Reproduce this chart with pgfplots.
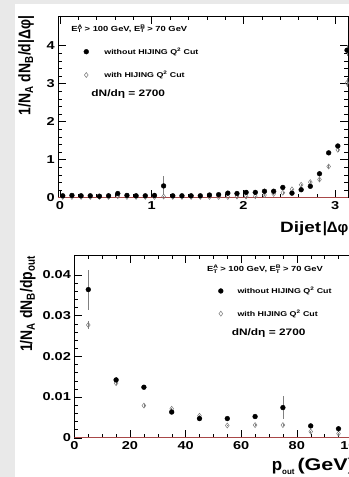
\documentclass[border=0pt]{standalone}
\usepackage{fontspec}
\setmainfont{Liberation Sans}[FakeStretch=1.27]
\newfontfamily\labfont{Liberation Sans}
\usepackage{graphicx}
\usepackage{pgfplots}
\usepackage{pgfplotstable}
\pgfplotsset{compat=1.18}
\definecolor{zeroline}{HTML}{A84848}
\definecolor{bg}{HTML}{E9E9E9}
\newcommand{\ET}[1]{E\rlap{\textsuperscript{#1}}\textsubscript{T}}

\pgfplotstableread{
x y e
0.03 0.05 0.02
0.13 0.06 0.02
0.23 0.05 0.02
0.33 0.05 0.02
0.43 0.04 0.02
0.53 0.05 0.02
0.63 0.11 0.03
0.73 0.06 0.02
0.83 0.05 0.02
0.93 0.05 0.02
1.03 0.06 0.02
1.13 0.31 0.25
1.23 0.05 0.02
1.33 0.05 0.02
1.43 0.05 0.02
1.53 0.05 0.02
1.63 0.07 0.02
1.73 0.08 0.02
1.83 0.12 0.02
1.93 0.11 0.02
2.03 0.14 0.02
2.13 0.14 0.02
2.23 0.17 0.02
2.33 0.17 0.02
2.43 0.27 0.03
2.53 0.12 0.02
2.63 0.21 0.03
2.73 0.30 0.03
2.83 0.63 0.04
2.93 1.18 0.05
3.03 1.36 0.06
3.13 3.88 0.15
}\phiNoCut

\pgfplotstableread{
x y e
0.03 0.02 0.01
0.13 0.02 0.01
0.23 0.02 0.01
0.33 0.02 0.01
0.43 0.02 0.01
0.53 0.02 0.01
0.63 0.04 0.01
0.73 0.02 0.01
0.83 0.02 0.01
0.93 0.02 0.01
1.03 0.02 0.01
1.13 0.03 0.01
1.23 0.02 0.01
1.33 0.02 0.01
1.43 0.02 0.01
1.53 0.02 0.01
1.63 0.02 0.01
1.73 0.02 0.01
1.83 0.02 0.01
1.93 0.03 0.01
2.03 0.03 0.01
2.13 0.04 0.01
2.23 0.07 0.02
2.33 0.10 0.02
2.43 0.13 0.02
2.53 0.22 0.02
2.63 0.34 0.03
2.73 0.41 0.03
2.83 0.48 0.03
2.93 0.82 0.04
3.03 1.26 0.05
3.13 3.02 0.12
}\phiCut

\pgfplotstableread{
x y e
5 0.0364 0.0049
15 0.0142 0.0006
25 0.0124 0.0004
35 0.0063 0.0003
45 0.0047 0.0003
55 0.0047 0.0003
65 0.0052 0.0003
75 0.0074 0.0028
85 0.0029 0.0002
95 0.0022 0.0002
}\poutNoCut

\pgfplotstableread{
x y e
5 0.0277 0.0010
15 0.0134 0.0004
25 0.0079 0.0003
35 0.0071 0.0003
45 0.0054 0.0003
55 0.0030 0.0002
65 0.0031 0.0002
75 0.0031 0.0002
85 0.0015 0.0002
95 0.0010 0.0002
}\poutCut

\pgfplotsset{
  rootstyle/.style={
    scale only axis,
    anchor=origin,
    axis line style={line width=0.5pt},
    tick align=inside,
    xtick pos=both, ytick pos=both,
    xticklabel pos=lower, yticklabel pos=left,
    major tick length=8bp, minor tick length=4bp,
    every tick/.style={black, line width=0.4pt},
    tick label style={font=\bfseries\fontsize{11.5}{12}\selectfont},
    /pgf/number format/assume math mode=true,
    legend cell align=left,
    legend image code/.code={\draw[##1] plot coordinates {(0bp,0bp)};},
    legend style={draw=none, fill=none, inner sep=0pt, outer sep=0pt,
      anchor=north west,
      nodes={inner sep=0pt, font=\bfseries\fontsize{7}{8}\selectfont}},
  },
  myerr/.style={error bars/y dir=both, error bars/y explicit, error bars/error mark=none,
    error bars/error bar style={gray, line width=0.5pt}},
  nocut/.style={only marks, mark=*, mark size=2.4bp, black, myerr},
  cutmark/.style={only marks, mark=diamond, mark size=2.5bp,
    mark options={draw=gray!95!black, fill=white, line width=0.5pt}},
  withcut/.style={cutmark, myerr},
}

\begin{document}
\begin{tikzpicture}
\path[use as bounding box] (0bp,0bp) rectangle (349bp,477bp);
\fill[bg] (0bp,0bp) rectangle (349bp,477bp);
\fill[white] (15bp,0bp) rectangle (349bp,473bp);
\clip (0bp,0bp) rectangle (349bp,477bp);

% ---------- top panel ----------
\begin{axis}[rootstyle,
  at={(60bp,279.3bp)}, width=289.9bp, height=181.7bp,
  xmin=-0.02, xmax=3.1416, ymin=0, ymax=4.78,
  xtick={0,1,2,3}, ytick={0,1,2,3,4},
  minor x tick num=4, minor y tick num=4,
  xlabel={Dijet\hspace{1.5bp}{\labfont |Δφ|}},
  xlabel style={at={(axis description cs:0.765,-0.194)}, anchor=base west, inner sep=0pt,
    font=\bfseries\fontsize{15}{15}\selectfont},
  ylabel={\scalebox{1}[1.2]{\labfont 1/N\textsubscript{A} dN\textsubscript{B}/d|Δφ|}},
  ylabel style={at={(axis description cs:-0.110,0.728)}, anchor=center,
    font=\bfseries\fontsize{14}{14}\selectfont},
  legend style={at={(rel axis cs:0.0887,0.8255)}, row sep=15.3bp, column sep=15.7bp},
]
\addplot[forget plot, withcut] table[x=x, y=y, y error=e] {\phiCut};
\addplot[nocut] table[x=x, y=y, y error=e] {\phiNoCut};
\addlegendentry{without HIJING Q\textsuperscript{2} Cut}
\addlegendimage{cutmark}
\addlegendentry{with HIJING Q\textsuperscript{2} Cut}
\draw[zeroline, line width=0.7pt] (rel axis cs:0,0) -- (rel axis cs:1,0);
\node[anchor=west, inner sep=0pt, font=\bfseries\fontsize{7.4}{8}\selectfont]
  at (rel axis cs:0.0448,0.928) {\ET{A} > 100 GeV, \ET{B} > 70 GeV};
\node[anchor=west, inner sep=0pt, font=\bfseries\fontsize{9.4}{10}\selectfont]
  at (rel axis cs:0.114,0.571) {dN/dη = 2700};
\end{axis}

% ---------- bottom panel ----------
\begin{axis}[rootstyle,
  at={(74.4bp,39.3bp)}, width=305.8bp, height=182.7bp,
  xmin=0, xmax=110, ymin=0, ymax=0.0449,
  xtick={0,20,40,60,80,100}, ytick={0,0.01,0.02,0.03,0.04},
  minor x tick num=3, minor y tick num=4,
  yticklabel style={/pgf/number format/fixed, /pgf/number format/precision=2},
  scaled y ticks=false,
  xlabel={{\labfont p\raisebox{-4bp}{\fontsize{8}{8}\selectfont out}}\hspace{3bp}(GeV)},
  xlabel style={at={(axis description cs:0.645,-0.177)}, anchor=base west, inner sep=0pt,
    font=\bfseries\fontsize{17}{17}\selectfont},
  ylabel={\scalebox{1}[1.2]{\labfont 1/N\textsubscript{A} dN\textsubscript{B}/dp\textsubscript{out}}},
  ylabel style={at={(axis description cs:-0.152,0.732)}, anchor=center,
    font=\bfseries\fontsize{14}{14}\selectfont},
  legend style={at={(rel axis cs:0.471,0.8249)}, row sep=14.7bp, column sep=14.3bp},
]
\addplot[forget plot, withcut] table[x=x, y=y, y error=e] {\poutCut};
\addplot[nocut] table[x=x, y=y, y error=e] {\poutNoCut};
\addlegendentry{without HIJING Q\textsuperscript{2} Cut}
\addlegendimage{cutmark}
\addlegendentry{with HIJING Q\textsuperscript{2} Cut}
\draw[zeroline, line width=0.7pt] (rel axis cs:0,0) -- (rel axis cs:1,0);
\node[anchor=west, inner sep=0pt, font=\bfseries\fontsize{7.4}{8}\selectfont]
  at (rel axis cs:0.433,0.922) {\ET{A} > 100 GeV, \ET{B} > 70 GeV};
\node[anchor=west, inner sep=0pt, font=\bfseries\fontsize{9.4}{10}\selectfont]
  at (rel axis cs:0.514,0.573) {dN/dη = 2700};
\end{axis}
\end{tikzpicture}
\end{document}
